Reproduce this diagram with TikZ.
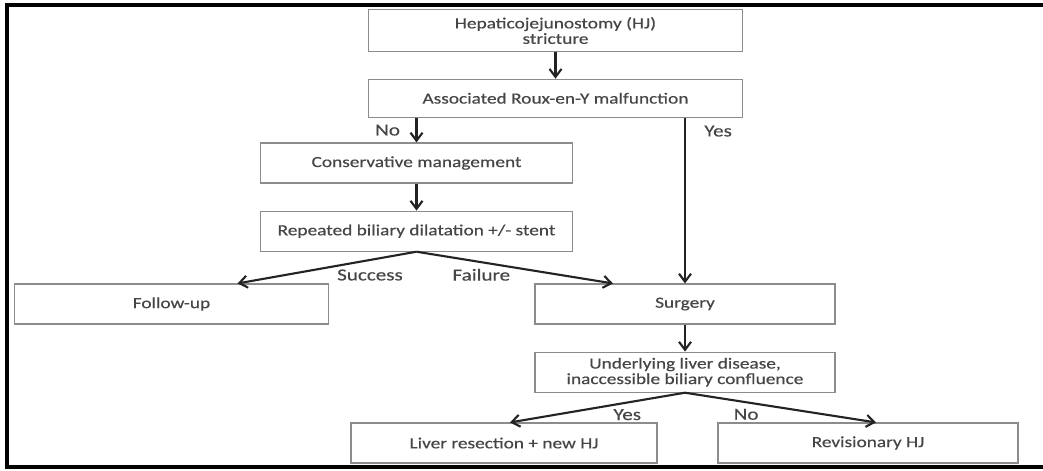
\documentclass[tikz,border=0pt]{standalone}
\usepackage{fontspec}
\setmainfont{Carlito}[FakeStretch=1.25, FakeBold=0.4]
\usepackage{xcolor}
\usepackage{tikz}
\usetikzlibrary{arrows.meta,positioning}
\definecolor{boxgray}{RGB}{140,140,140}
\definecolor{textgray}{RGB}{70,70,70}
\definecolor{flowgray}{RGB}{35,35,35}
\tikzset{
  box/.style   ={rectangle, draw=boxgray, line width=0.8pt, fill=white, align=center,
                 minimum height=1.0cm, inner sep=2pt, text=textgray,
                 font=\fontsize{11}{11}\selectfont},
  flow/.style  ={-{Straight Barb[length=2mm, width=3mm]}, line width=1.5pt, draw=flowgray},
  lbl/.style   ={font=\fontsize{12}{13}\selectfont, text=textgray, inner sep=1pt},
  outerframe/.style={line width=2.8pt, draw=black}
}

\begin{document}
\begin{tikzpicture}[x=0.025cm, y=-0.025cm, node distance=0.675cm]
\useasboundingbox (0,0) rectangle (1043,470);
\draw[outerframe] (1060,5) -- (7,5) -- (7,467) -- (1060,467);
% top
\node[box, minimum width=9.33cm, minimum height=1.03cm] (hj) at (555.5,30.5) {Hepaticojejunostomy (HJ)\\stricture};
\node[box, minimum width=9.33cm, minimum height=0.95cm, below=of hj] (roux) {Associated Roux-en-Y malfunction};
\draw[flow] (hj) -- (roux);
% no: conservative
\node[box, minimum width=7.78cm] (cons) at (416.5,163) {Conservative management};
\node[box, minimum width=7.78cm, below=of cons] (dil) {Repeated biliary dilatation +/- stent};
\node[box, minimum width=7.83cm] (fu) at (171.5,304) {Follow-up};
\draw[flow] (cons.north |- roux.south) -- node[lbl, left=10pt]{No} (cons.north);
\draw[flow] (cons) -- (dil);
\draw[flow] (dil.south) -- node[lbl, below, pos=0.26, yshift=-5pt]{Success} ([xshift=1.65cm]fu.north);
% yes: surgery
\node[box, minimum width=7.5cm] (surg) at (685,304) {Surgery};
\node[box, minimum width=7.5cm, below=of surg] (liv) {Underlying liver disease,\\inaccessible biliary confluence};
\draw[flow] (surg.north |- roux.south) -- node[lbl, right=12pt, pos=0.08]{Yes} (surg.north);
\draw[flow] (dil.south) -- node[lbl, below, pos=0.33, yshift=-3pt]{Failure} ([xshift=-1.8cm]surg.north);
\draw[flow] (surg) -- (liv);
% outcome
\node[box, minimum width=7.65cm] (res) at (504,443) {Liver resection + new HJ};
\node[box, minimum width=7.5cm] (rev) at (868,443) {Revisionary HJ};
\draw[flow] (liv.south) -- node[lbl, below, pos=0.33, yshift=-3pt]{Yes} ([xshift=0.15cm]res.north);
\draw[flow] (liv.south) -- node[lbl, below, pos=0.32, yshift=-3pt]{No} ([xshift=0.2cm]rev.north);
\end{tikzpicture}
\end{document}
